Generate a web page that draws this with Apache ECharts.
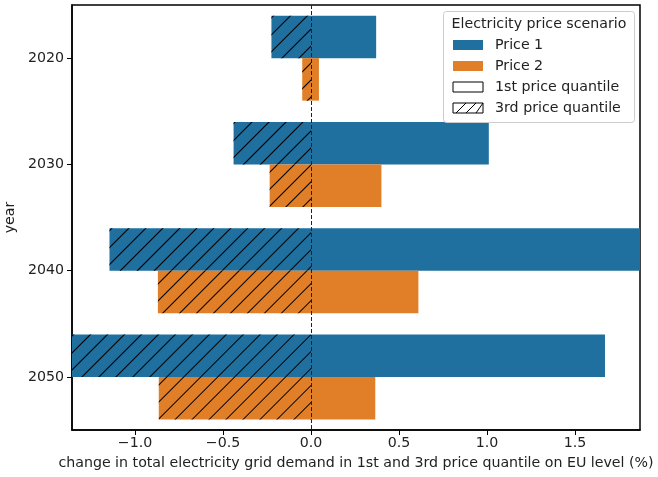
<!DOCTYPE html>
<html>
<head>
<meta charset="utf-8">
<script src="https://cdn.jsdelivr.net/npm/echarts@6/dist/echarts.min.js"></script>
<style>
html,body{margin:0;padding:0;background:#fff;}
#chart{width:658px;height:477px;}
</style>
</head>
<body>
<div id="chart"></div>
<script>
// years (top to bottom)
var years = ['2020', '2030', '2040', '2050'];
// 1st price quantile (positive) and 3rd price quantile (negative), %
var price1Q1 = [0.37, 1.01, 1.95, 1.67];
var price1Q3 = [-0.225, -0.44, -1.145, -1.42];
var price2Q1 = [0.045, 0.40, 0.61, 0.365];
var price2Q3 = [-0.05, -0.235, -0.87, -0.865];
var xTicks = [-1.0, -0.5, 0.0, 0.5, 1.0, 1.5];

var BLUE = '#1f6f9f';
var ORANGE = '#e17f28';
var FONT = 'DejaVu Sans';
var FS = 14.2;

var hatch = {
	symbol: 'rect',
	symbolSize: 1,
	color: '#000',
	dashArrayX: [[1, 0]],
	dashArrayY: [1, 11],
	rotation: -Math.PI / 4
};

function fmt(v){
	var s = Math.abs(v).toFixed(1);
	return v < 0 ? '\u2212' + s : s;
}

var myChart = echarts.init(document.getElementById('chart'));

// legend drawn by hand (matplotlib style with title)
var lx = 443, ly = 11;
var legendItems = [
	{name: 'Price 1', fill: BLUE, stroke: null},
	{name: 'Price 2', fill: ORANGE, stroke: null},
	{name: '1st price quantile', fill: '#fff', stroke: '#000'},
	{name: '3rd price quantile', fill: '#fff', stroke: '#000', hatch: true}
];
var graphics = [
	{type: 'rect', left: lx, top: ly, z: 100,
	 shape: {width: 191, height: 111, r: 3},
	 style: {fill: 'rgba(255,255,255,0.85)', stroke: '#ccc', lineWidth: 1}},
	{type: 'text', x: lx + 96, y: ly + 13, z: 101,
	 style: {text: 'Electricity price scenario', fill: '#222', font: FS + 'px ' + FONT, align: 'center', verticalAlign: 'middle'}}
];
legendItems.forEach(function (it, i) {
	var cy = ly + 34 + i * 21;
	graphics.push({type: 'rect', x: lx + 10, y: cy - 5, z: 101,
		shape: {width: 30, height: 10},
		style: {fill: it.fill, stroke: it.stroke, lineWidth: 1}});
	if (it.hatch) {
		for (var k = 0; k < 3; k++) {
			var x0 = lx + 13 + k * 10;
			graphics.push({type: 'line', z: 102,
				shape: {x1: x0, y1: cy + 5, x2: Math.min(x0 + 10, lx + 40), y2: cy - 5},
				style: {stroke: '#000', lineWidth: 1}});
		}
	}
	graphics.push({type: 'text', x: lx + 52, y: cy, z: 101,
		style: {text: it.name, fill: '#222', font: FS + 'px ' + FONT, verticalAlign: 'middle'}});
});

var option = {
	animation: false,
	textStyle: {fontFamily: FONT},
	grid: {
		left: 72, right: 18, top: 5, bottom: 47,
		outerBoundsMode: 'none',
		show: true, borderColor: '#000', borderWidth: 1.5
	},
	xAxis: {
		type: 'value',
		min: -1.358,
		max: 1.869,
		name: 'change in total electricity grid demand in 1st and 3rd price quantile on EU level (%)',
		nameLocation: 'middle',
		nameGap: 26,
		nameTextStyle: {fontSize: FS, color: '#222', fontFamily: FONT},
		axisLine: {show: true, lineStyle: {color: '#000', width: 1.5}},
		axisTick: {show: true, customValues: xTicks, length: 5, lineStyle: {color: '#000'}},
		axisLabel: {customValues: xTicks, formatter: fmt, fontSize: FS, color: '#222', margin: 6},
		splitLine: {show: false}
	},
	yAxis: {
		type: 'category',
		data: years,
		inverse: true,
		name: 'year',
		nameLocation: 'middle',
		nameGap: 53,
		nameTextStyle: {fontSize: FS, color: '#222', fontFamily: FONT},
		axisLine: {show: true, onZero: false, lineStyle: {color: '#000', width: 1.5}},
		axisTick: {show: true, alignWithLabel: true, length: 5, lineStyle: {color: '#000'}},
		axisLabel: {fontSize: FS, color: '#222', margin: 8}
	},
	series: [
		{name: 'Price 1', type: 'bar', stack: 'p1', data: price1Q1,
		 barCategoryGap: '20%', barGap: '0%',
		 itemStyle: {color: BLUE},
		 markLine: {
			silent: true, symbol: 'none', label: {show: false}, z: 10,
			lineStyle: {color: '#222', type: [4, 2], width: 1},
			data: [{xAxis: 0}]
		 }},
		{name: 'Price 1 q3', type: 'bar', stack: 'p1', data: price1Q3,
		 itemStyle: {color: BLUE, decal: hatch}},
		{name: 'Price 2', type: 'bar', stack: 'p2', data: price2Q1,
		 barCategoryGap: '20%', barGap: '0%',
		 itemStyle: {color: ORANGE}},
		{name: 'Price 2 q3', type: 'bar', stack: 'p2', data: price2Q3,
		 itemStyle: {color: ORANGE, decal: hatch}}
	],
	graphic: graphics
};
myChart.setOption(option);
</script>
</body>
</html>
